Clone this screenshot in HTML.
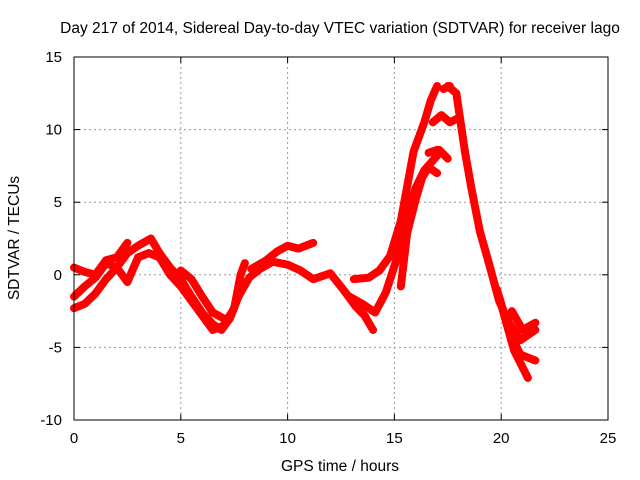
<!DOCTYPE html>
<html><head><meta charset="utf-8"><style>
body{margin:0;background:#fff}
svg{display:block;font-family:"Liberation Sans",sans-serif}
</style></head><body>
<svg id="chart" width="640" height="480">
<text x="340" y="33" text-anchor="middle" font-size="15.5">Day 217 of 2014, Sidereal Day-to-day VTEC variation (SDTVAR) for receiver lago</text>
<text x="340" y="471" text-anchor="middle" font-size="15.5">GPS time / hours</text>
<text x="19" y="238" text-anchor="middle" font-size="15.5" transform="rotate(-90 19 238)">SDTVAR / TECUs</text>
<g id="grid"></g><g id="series"></g><g id="axes"></g>
</svg>
<script>
const xTicks=[0,5,10,15,20,25];
const yTicks=[-10,-5,0,5,10,15];
const trackA=[[0,-1.5],[0.5,-0.8],[1,-0.2],[1.5,0.8],[2,0.5],[2.5,1.5],[3,2],[3.6,2.5],[4,1.5],[4.5,0.5],[5,-0.3],[5.5,-1.5],[6,-2.6],[6.5,-3.4],[6.9,-3.8],[7.3,-3],[7.7,-1.5],[8.2,-0.2],[8.7,0.4],[9.3,0.9],[10,0.7],[10.6,0.3],[11.2,-0.3],[12,0.1],[12.6,-1],[13.2,-2.2],[13.6,-2.8],[14,-3.8]];
const trackB=[[0,-2.3],[0.5,-2],[1,-1.3],[1.5,-0.3],[2,0.5],[2.5,-0.5],[3,1.2],[3.5,1.5],[4,1.2],[4.5,0],[5,-0.8],[5.5,-1.8],[6,-2.8],[6.5,-3.8],[7,-3.5],[7.5,-2.3],[7.8,0],[8,0.8]];
const trackC=[[0,0.5],[0.5,0.2],[1,0],[1.5,1],[2,1.2],[2.5,2.2]];
const trackD=[[8.3,0.4],[9,1],[9.5,1.6],[10,2],[10.5,1.8],[11.2,2.2]];
const trackE=[[5,0.3],[5.5,-0.3],[6,-1.5],[6.5,-2.6],[7,-3]];
const trackPeak=[[13.1,-0.3],[13.8,-0.2],[14.3,0.3],[14.8,1.3],[15.3,3.7],[15.9,8.5],[16.4,10.5],[16.7,12],[17,13]];
const trackTop=[[17.3,12.8],[17.6,13]];
const trackDown=[[17.5,13],[17.9,12.5],[18.3,8.5],[18.6,6],[19,3],[19.5,0.4],[19.9,-1.8],[20.4,-3.4],[20.9,-4.5],[21.6,-3.8]];
const trackLowRise=[[12.9,-1.5],[13.5,-2],[14.1,-2.6],[14.6,-1.2],[15.2,1.5],[15.6,4],[16,6],[16.4,7.2],[17,8.2]];
const trackD2=[[15.3,-0.8],[15.6,2.9],[16,5.2],[16.3,6.7],[16.6,7.4],[17,7.0]];
const trackE2=[[16.6,8.4],[17,8.6]];
const trackE3=[[17.1,8.6],[17.5,8.0]];
const trackF=[[16.8,10.5],[17.2,11],[17.6,10.5],[18,10.8]];
const trackTail1=[[19.8,-1],[20.2,-3.1],[20.6,-5.2],[21.25,-7.1]];
const trackTail2=[[19.9,-1.5],[20.4,-4],[20.9,-5.5],[21.6,-5.9]];
const trackTail3=[[20.5,-2.5],[21,-3.8],[21.6,-3.3]];
const tracks=[trackA,trackB,trackC,trackD,trackE,trackPeak,trackTop,trackDown,trackLowRise,trackD2,trackE2,trackE3,trackF,trackTail1,trackTail2,trackTail3];
const X0=74,X1=608,Y0=420,Y1=57;
const sx=h=>X0+(h-0)/(25-0)*(X1-X0);
const sy=v=>Y0-(v+10)/(25)*(Y0-Y1);
const NS="http://www.w3.org/2000/svg";
const grid=document.getElementById('grid'),ser=document.getElementById('series'),ax=document.getElementById('axes');
function mk(t,a,p){const e=document.createElementNS(NS,t);for(const k in a)e.setAttribute(k,a[k]);p.appendChild(e);return e;}
xTicks.forEach(t=>{
 if(t>0&&t<25){const g=mk('line',{x1:sx(t),x2:sx(t),y1:Y1,y2:Y0,stroke:'#999','stroke-dasharray':'2,3'},grid);
 
 }
 mk('line',{x1:sx(t),x2:sx(t),y1:Y0,y2:Y0-6,stroke:'#000'},ax);
 mk('line',{x1:sx(t),x2:sx(t),y1:Y1,y2:Y1+6,stroke:'#000'},ax);
 const l=mk('text',{x:sx(t),y:Y0+23,'text-anchor':'middle','font-size':15},ax);l.textContent=t;
 
 
});
yTicks.forEach(t=>{
 if(t>-10&&t<15){const g=mk('line',{x1:X0,x2:X1,y1:sy(t),y2:sy(t),stroke:'#999','stroke-dasharray':'2,3'},grid);
 
 }
 mk('line',{x1:X0,x2:X0+6,y1:sy(t),y2:sy(t),stroke:'#000'},ax);
 mk('line',{x1:X1,x2:X1-6,y1:sy(t),y2:sy(t),stroke:'#000'},ax);
 const l=mk('text',{x:X0-12,y:sy(t)+5,'text-anchor':'end','font-size':15},ax);l.textContent=t;
 
 
});
const b=mk('rect',{x:X0,y:Y1,width:X1-X0,height:Y0-Y1,fill:'none',stroke:'#000'},ax);


tracks.forEach(tr=>{
 const p=mk('polyline',{points:tr.map(d=>sx(d[0])+','+sy(d[1])).join(' '),fill:'none',stroke:'#f00','stroke-width':8,'stroke-linejoin':'round','stroke-linecap':'round'},ser);
 
 
});
</script>
</body></html>
